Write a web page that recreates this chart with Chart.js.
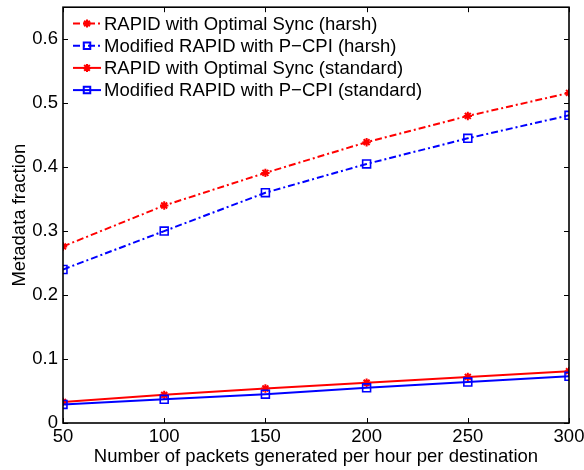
<!DOCTYPE html>
<html>
<head>
<meta charset="utf-8">
<script src="https://cdn.jsdelivr.net/npm/chart.js@4"></script>
<style>
  html, body { margin: 0; padding: 0; background: #fff; }
  #wrap { width: 584px; height: 470px; }
</style>
</head>
<body>
<div id="wrap"><canvas id="c" width="584" height="470"></canvas></div>
<script>
// Packets generated per hour per destination
const packetRates = [50, 100, 150, 200, 250, 300];

// Metadata fraction for each scheme
const rapidHarsh     = [0.276, 0.340, 0.391, 0.439, 0.480, 0.516];
const pcpiHarsh      = [0.240, 0.300, 0.360, 0.405, 0.445, 0.481];
const rapidStandard  = [0.033, 0.044, 0.054, 0.063, 0.072, 0.081];
const pcpiStandard   = [0.029, 0.037, 0.045, 0.055, 0.064, 0.073];

const seriesNames = [
  'RAPID with Optimal Sync (harsh)',
  'Modified RAPID with P\u2212CPI (harsh)',
  'RAPID with Optimal Sync (standard)',
  'Modified RAPID with P\u2212CPI (standard)'
];

const yTickValues = [0, 0.1, 0.2, 0.3, 0.4, 0.5, 0.6];
const xTickValues = [50, 100, 150, 200, 250, 300];

const FONT = "'Liberation Sans', Arial, Helvetica, sans-serif";
const FSIZE = 18.5;
const RED = '#ff0000';
const BLUE = '#0000ff';
const DASHDOT = [7, 3, 2, 3];

function pts(ys) {
  return ys.map((y, i) => ({ x: packetRates[i], y }));
}

function series(label, ys, color, dash, style, radius, order) {
  return {
    label,
    data: pts(ys),
    borderColor: color,
    backgroundColor: 'rgba(0,0,0,0)',
    borderWidth: 2,
    borderDash: dash,
    pointStyle: style,
    pointRadius: radius,
    pointBorderWidth: style === 'star' ? 2 : 1.6,
    pointBorderColor: color,
    pointBackgroundColor: 'rgba(0,0,0,0)',
    tension: 0,
    order
  };
}

const datasets = [
  series(seriesNames[0], rapidHarsh, RED, DASHDOT, 'star', 4.2, 3),
  series(seriesNames[1], pcpiHarsh, BLUE, DASHDOT, 'rect', 5.6, 2),
  series(seriesNames[2], rapidStandard, RED, [], 'star', 4.2, 1),
  series(seriesNames[3], pcpiStandard, BLUE, [], 'rect', 5.6, 0)
];

// Axes box with inward tick marks on all four sides
const boxPlugin = {
  id: 'boxAxes',
  afterDatasetsDraw(chart) {
    const { ctx, chartArea: a, scales } = chart;
    ctx.save();
    ctx.strokeStyle = '#000';
    ctx.lineWidth = 1;
    const L = 5;
    ctx.beginPath();
    scales.y.ticks.forEach(t => {
      const y = Math.round(scales.y.getPixelForValue(t.value)) + 0.5;
      ctx.moveTo(a.left, y); ctx.lineTo(a.left + L, y);
      ctx.moveTo(a.right, y); ctx.lineTo(a.right - L, y);
    });
    scales.x.ticks.forEach(t => {
      const x = Math.round(scales.x.getPixelForValue(t.value)) + 0.5;
      ctx.moveTo(x, a.bottom); ctx.lineTo(x, a.bottom - L);
      ctx.moveTo(x, a.top); ctx.lineTo(x, a.top + L);
    });
    ctx.stroke();
    ctx.lineWidth = 1.6;
    ctx.strokeRect(a.left, a.top, a.right - a.left, a.bottom - a.top);
    ctx.restore();
  }
};

// Legend with line sample and marker for each series
const legendPlugin = {
  id: 'lineLegend',
  afterDraw(chart) {
    const { ctx, chartArea: a } = chart;
    ctx.save();
    ctx.font = FSIZE + 'px ' + FONT;
    ctx.textBaseline = 'middle';
    ctx.textAlign = 'left';
    chart.data.datasets.forEach((ds, i) => {
      const y = 23.5 + i * 22.2;
      const x0 = a.left + 10, x1 = a.left + 38;
      ctx.strokeStyle = ds.borderColor;
      ctx.lineWidth = ds.borderWidth;
      ctx.setLineDash(ds.borderDash);
      ctx.beginPath();
      ctx.moveTo(x0, y); ctx.lineTo(x1, y);
      ctx.stroke();
      ctx.setLineDash([]);
      ctx.fillStyle = 'rgba(0,0,0,0)';
      ctx.strokeStyle = ds.borderColor;
      Chart.helpers.drawPoint(ctx, {
        pointStyle: ds.pointStyle,
        radius: ds.pointStyle === 'star' ? 4 : 4.6,
        borderWidth: ds.pointBorderWidth,
        rotation: 0
      }, (x0 + x1) / 2, y);
      ctx.fillStyle = '#000';
      ctx.fillText(ds.label, a.left + 41, y + 1);
    });
    ctx.restore();
  }
};

new Chart(document.getElementById('c'), {
  type: 'line',
  data: { datasets },
  plugins: [boxPlugin, legendPlugin],
  options: {
    responsive: false,
    animation: false,
    events: [],
    layout: { padding: 0 },
    plugins: { legend: { display: false }, tooltip: { enabled: false } },
    scales: {
      x: {
        type: 'linear',
        min: 50,
        max: 300,
        afterBuildTicks(scale) { scale.ticks = xTickValues.map(v => ({ value: v })); },
        afterFit(scale) {
          scale.height = 47;
          scale.paddingLeft = 0;
          scale.paddingRight = 15;
        },
        grid: { display: false, drawTicks: false },
        border: { display: false },
        ticks: { font: { family: FONT, size: FSIZE }, color: '#000', padding: 3, maxRotation: 0, autoSkip: false },
        title: {
          display: true,
          text: 'Number of packets generated per hour per destination',
          font: { family: FONT, size: FSIZE },
          color: '#000',
          padding: { top: 0, bottom: 2 }
        }
      },
      y: {
        type: 'linear',
        min: 0,
        max: 0.65,
        afterBuildTicks(scale) { scale.ticks = yTickValues.map(v => ({ value: v })); },
        afterFit(scale) {
          scale.width = 63;
          scale.paddingTop = 6;
          scale.paddingBottom = 0;
        },
        grid: { display: false, drawTicks: false },
        border: { display: false },
        ticks: {
          font: { family: FONT, size: FSIZE },
          color: '#000',
          padding: 5,
          autoSkip: false,
          callback: v => (v === 0 ? '0' : v.toFixed(1))
        },
        title: {
          display: true,
          text: 'Metadata fraction',
          font: { family: FONT, size: FSIZE },
          color: '#000',
          padding: { top: 9, bottom: 0 }
        }
      }
    }
  }
});
</script>
</body>
</html>
